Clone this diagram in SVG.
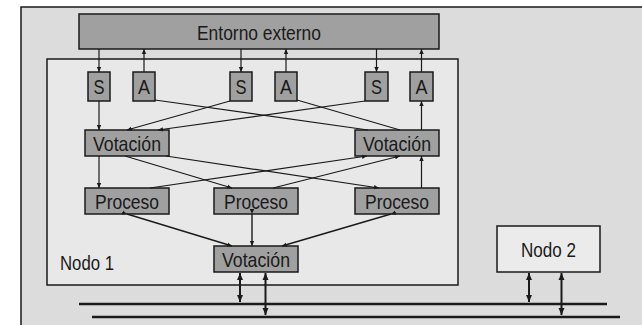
<svg xmlns="http://www.w3.org/2000/svg" width="642" height="325" viewBox="0 0 642 325">
  <style>
    .frame { fill: #dcdcdc; stroke: #1a1a1a; stroke-width: 1.5; }
    .node1 { fill: #e8e8e8; stroke: #1a1a1a; stroke-width: 1.5; }
    .box { fill: #a0a0a0; stroke: #1a1a1a; stroke-width: 1.5; }
    .plain { fill: #ebebeb; stroke: #1a1a1a; stroke-width: 1.5; }
    .lbl { font-family: "Liberation Sans Narrow", "Liberation Sans", Arial, sans-serif; font-size: 21px; fill: #1a1a1a; text-anchor: middle; }
    .wire { stroke: #1a1a1a; stroke-width: 1.2; fill: none; }
    .link { stroke: #1a1a1a; stroke-width: 1.4; fill: none; }
    .bus { stroke: #1a1a1a; stroke-width: 2.5; fill: none; }
    .busarrow { stroke: #1a1a1a; stroke-width: 2; fill: none; }
  </style>
  <defs>
    <marker id="tip" markerUnits="userSpaceOnUse" markerWidth="6" markerHeight="6" refX="5" refY="3" orient="auto">
      <path d="M0,0.8 L5,3 L0,5.2 Z" fill="#1a1a1a"/>
    </marker>
    <marker id="tipBig" markerUnits="userSpaceOnUse" markerWidth="8" markerHeight="8" refX="7" refY="4" orient="auto-start-reverse">
      <path d="M0,1 L7,4 L0,7 Z" fill="#1a1a1a"/>
    </marker>
  </defs>

  <rect class="frame" x="21" y="7" width="630" height="330"/>
  <rect id="nodo1-frame" class="node1" x="47" y="59" width="411" height="226"/>

  <g id="entorno">
    <rect class="box" x="79" y="14" width="360" height="35"/>
    <text class="lbl" x="259" y="39.5" textLength="124" lengthAdjust="spacingAndGlyphs">Entorno externo</text>
  </g>

  <g id="s1"><rect class="box" x="88" y="72" width="22" height="29"/><text class="lbl" x="99" y="94" textLength="11" lengthAdjust="spacingAndGlyphs">S</text></g>
  <g id="a1"><rect class="box" x="133" y="72" width="22" height="29"/><text class="lbl" x="144" y="94" textLength="12" lengthAdjust="spacingAndGlyphs">A</text></g>
  <g id="s2"><rect class="box" x="230" y="72" width="22" height="29"/><text class="lbl" x="241" y="94" textLength="11" lengthAdjust="spacingAndGlyphs">S</text></g>
  <g id="a2"><rect class="box" x="275" y="72" width="22" height="29"/><text class="lbl" x="286" y="94" textLength="12" lengthAdjust="spacingAndGlyphs">A</text></g>
  <g id="s3"><rect class="box" x="365" y="72" width="23" height="29"/><text class="lbl" x="376.5" y="94" textLength="11" lengthAdjust="spacingAndGlyphs">S</text></g>
  <g id="a3"><rect class="box" x="410" y="72" width="23" height="29"/><text class="lbl" x="421.5" y="94" textLength="12" lengthAdjust="spacingAndGlyphs">A</text></g>

  <g id="votacion-izq"><rect class="box" x="85" y="130" width="84" height="26"/><text class="lbl" x="127" y="150.5" textLength="68" lengthAdjust="spacingAndGlyphs">Votación</text></g>
  <g id="votacion-der"><rect class="box" x="355" y="130" width="84" height="26"/><text class="lbl" x="397" y="150.5" textLength="68" lengthAdjust="spacingAndGlyphs">Votación</text></g>

  <g id="proceso-izq"><rect class="box" x="85" y="188" width="84" height="26"/><text class="lbl" x="127" y="208.5" textLength="64" lengthAdjust="spacingAndGlyphs">Proceso</text></g>
  <g id="proceso-centro"><rect class="box" x="214" y="188" width="84" height="26"/><text class="lbl" x="256" y="208.5" textLength="64" lengthAdjust="spacingAndGlyphs">Proceso</text></g>
  <g id="proceso-der"><rect class="box" x="355" y="188" width="84" height="26"/><text class="lbl" x="397" y="208.5" textLength="64" lengthAdjust="spacingAndGlyphs">Proceso</text></g>

  <g id="votacion-final"><rect class="box" x="214" y="246" width="84" height="26"/><text class="lbl" x="256" y="266.5" textLength="68" lengthAdjust="spacingAndGlyphs">Votación</text></g>

  <g id="nodo1-label"><text class="lbl" x="87" y="270" textLength="54" lengthAdjust="spacingAndGlyphs">Nodo 1</text></g>

  <g id="nodo2"><rect class="plain" x="497" y="226" width="103" height="46"/><text class="lbl" x="548.5" y="256.5" textLength="55" lengthAdjust="spacingAndGlyphs">Nodo 2</text></g>

  <g id="connectors">
    <!-- environment to sensors, actuators to environment -->
    <line class="wire" x1="99" y1="49" x2="99" y2="72" marker-end="url(#tip)"/>
    <line class="wire" x1="144" y1="72" x2="144" y2="49" marker-end="url(#tip)"/>
    <line class="wire" x1="241" y1="49" x2="241" y2="72" marker-end="url(#tip)"/>
    <line class="wire" x1="286" y1="72" x2="286" y2="49" marker-end="url(#tip)"/>
    <line class="wire" x1="376.5" y1="49" x2="376.5" y2="72" marker-end="url(#tip)"/>
    <line class="wire" x1="421.5" y1="72" x2="421.5" y2="49" marker-end="url(#tip)"/>

    <!-- sensors to voters, voters to actuators -->
    <line class="wire" x1="99" y1="101" x2="99" y2="130" marker-end="url(#tip)"/>
    <line class="wire" x1="230" y1="101" x2="127" y2="130" marker-end="url(#tip)"/>
    <line class="wire" x1="365" y1="101" x2="158" y2="130" marker-end="url(#tip)"/>
    <line class="wire" x1="155" y1="100" x2="368" y2="130"/>
    <line class="wire" x1="297" y1="100" x2="400" y2="130"/>
    <line class="wire" x1="421.5" y1="130" x2="421.5" y2="101" marker-end="url(#tip)"/>

    <!-- voters to processes, processes to voters -->
    <line class="wire" x1="99" y1="156" x2="99" y2="188" marker-end="url(#tip)"/>
    <line class="wire" x1="125" y1="156" x2="232" y2="188" marker-end="url(#tip)"/>
    <line class="wire" x1="166" y1="156" x2="379" y2="188" marker-end="url(#tip)"/>
    <line class="wire" x1="150" y1="188" x2="367" y2="156" marker-end="url(#tip)"/>
    <line class="wire" x1="273" y1="188" x2="400" y2="156" marker-end="url(#tip)"/>
    <line class="wire" x1="421.5" y1="188" x2="421.5" y2="156" marker-end="url(#tip)"/>

    <!-- processes to final voter -->
    <line class="link" x1="127" y1="214" x2="232" y2="246" marker-start="url(#tip)" marker-end="url(#tip)"/>
    <line class="link" x1="252" y1="214" x2="252" y2="246" marker-start="url(#tip)" marker-end="url(#tip)"/>
    <line class="link" x1="391" y1="214" x2="282" y2="246" marker-start="url(#tip)" marker-end="url(#tip)"/>

    <!-- buses -->
    <line class="bus" x1="79" y1="304" x2="607" y2="304"/>
    <line class="bus" x1="92" y1="317" x2="620" y2="317"/>

    <!-- bus taps -->
    <line class="busarrow" x1="240" y1="273" x2="240" y2="302" marker-start="url(#tipBig)" marker-end="url(#tipBig)"/>
    <line class="busarrow" x1="265.5" y1="273" x2="265.5" y2="315" marker-start="url(#tipBig)" marker-end="url(#tipBig)"/>
    <line class="busarrow" x1="529" y1="273" x2="529" y2="302" marker-start="url(#tipBig)" marker-end="url(#tipBig)"/>
    <line class="busarrow" x1="561.5" y1="273" x2="561.5" y2="315" marker-start="url(#tipBig)" marker-end="url(#tipBig)"/>
  </g>
</svg>
